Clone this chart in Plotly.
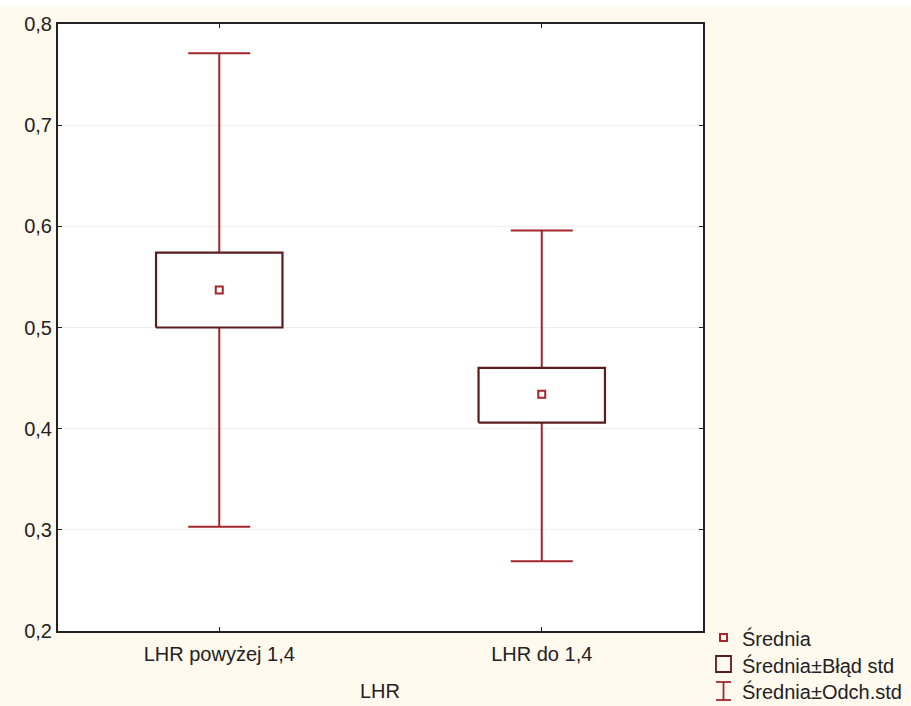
import plotly.graph_objects as go

categories = ["LHR powyżej 1,4", "LHR do 1,4"]
means = [0.537, 0.434]
se_low = [0.500, 0.406]
se_high = [0.574, 0.460]
sd_low = [0.303, 0.269]
sd_high = [0.771, 0.596]
y_ticks = [0.2, 0.3, 0.4, 0.5, 0.6, 0.7, 0.8]
legend_labels = ["Średnia", "Średnia±Błąd std", "Średnia±Odch.std"]

BOX_HALF = 0.196
WHISK = "#A3262B"
BOXC = "#5B1C1E"
BG = "#FFF9EE"
FONT = "Liberation Sans, Arial, sans-serif"
FS = 20

W, H = 911, 706
L, R, T, B = 58, 208, 24, 75
pw, ph = W - L - R, H - T - B

def px(x):
    return (x - L) / pw

def py(y):
    return (H - B - y) / ph

fig = go.Figure()

# whiskers (mean ± SD) as error bars
fig.add_trace(go.Scatter(
    x=list(range(len(categories))), y=means, mode="markers",
    marker=dict(size=1, color="rgba(0,0,0,0)"),
    error_y=dict(type="data", symmetric=False,
                 array=[h - m for h, m in zip(sd_high, means)],
                 arrayminus=[m - l for m, l in zip(means, sd_low)],
                 color=WHISK, thickness=2, width=31),
    showlegend=False, hoverinfo="skip"))

# boxes (mean ± SE)
for i in range(len(categories)):
    fig.add_trace(go.Scatter(
        x=[i - BOX_HALF, i + BOX_HALF, i + BOX_HALF, i - BOX_HALF, i - BOX_HALF],
        y=[se_low[i], se_low[i], se_high[i], se_high[i], se_low[i]],
        mode="lines", fill="toself", fillcolor="white",
        line=dict(color=BOXC, width=2.2), showlegend=False, hoverinfo="skip"))

# means
fig.add_trace(go.Scatter(
    x=list(range(len(categories))), y=means, mode="markers",
    marker=dict(symbol="square-open", size=7, color=WHISK, line=dict(width=2)),
    showlegend=False))

shapes = [
    dict(type="rect", xref="paper", yref="paper", x0=px(0), x1=px(W), y0=py(7), y1=py(0),
         fillcolor="white", line=dict(width=0), layer="below"),
    dict(type="rect", xref="paper", yref="paper", x0=px(720), x1=px(727), y0=py(641), y1=py(634),
         line=dict(color=WHISK, width=2), fillcolor="rgba(0,0,0,0)"),
    dict(type="rect", xref="paper", yref="paper", x0=px(716), x1=px(731), y0=py(672), y1=py(656),
         line=dict(color=BOXC, width=1.8), fillcolor="rgba(0,0,0,0)"),
    dict(type="line", xref="paper", yref="paper", x0=px(716), x1=px(731), y0=py(682), y1=py(682),
         line=dict(color=WHISK, width=1.8)),
    dict(type="line", xref="paper", yref="paper", x0=px(716), x1=px(731), y0=py(700), y1=py(700),
         line=dict(color=WHISK, width=1.8)),
    dict(type="line", xref="paper", yref="paper", x0=px(723.5), x1=px(723.5), y0=py(682), y1=py(700),
         line=dict(color=WHISK, width=1.8)),
]

annotations = []
for lab, yc in zip(legend_labels, [638, 665, 691]):
    annotations.append(dict(text=lab, xref="paper", yref="paper", x=px(740), y=py(yc),
                            xanchor="left", yanchor="middle", showarrow=False,
                            font=dict(family=FONT, size=FS, color="#222")))
annotations.append(dict(text="LHR", xref="paper", yref="paper", x=px(380), y=py(691),
                        xanchor="center", yanchor="middle", showarrow=False,
                        font=dict(family=FONT, size=FS, color="#222")))

fig.update_layout(
    width=W, height=H,
    margin=dict(l=L, r=R, t=T, b=B, pad=0),
    paper_bgcolor=BG, plot_bgcolor="white",
    separators=", ",
    font=dict(family=FONT, size=FS, color="#222"),
    shapes=shapes, annotations=annotations,
    showlegend=False,
    xaxis=dict(range=[-0.5, 1.5], tickvals=list(range(len(categories))), ticktext=categories,
               showgrid=False, zeroline=False, showline=True, linecolor="#222", linewidth=2,
               mirror="ticks", ticks="inside", ticklen=4, tickcolor="#222", tickwidth=1,
               ticklabelstandoff=4,
               tickfont=dict(size=FS, color="#222"), fixedrange=True),
    yaxis=dict(range=[0.2, 0.8], tickvals=y_ticks, tickformat=".1f",
               showgrid=True, gridcolor="#EEEEEE", gridwidth=1, zeroline=False,
               showline=True, linecolor="#222", linewidth=2,
               mirror="ticks", ticks="inside", ticklen=4, tickcolor="#222", tickwidth=1,
               tickfont=dict(size=FS, color="#222"), fixedrange=True),
)

fig.write_html("out.html", config={"displayModeBar": False},
               post_script="document.body.style.margin='0';document.body.style.overflow='hidden';")
